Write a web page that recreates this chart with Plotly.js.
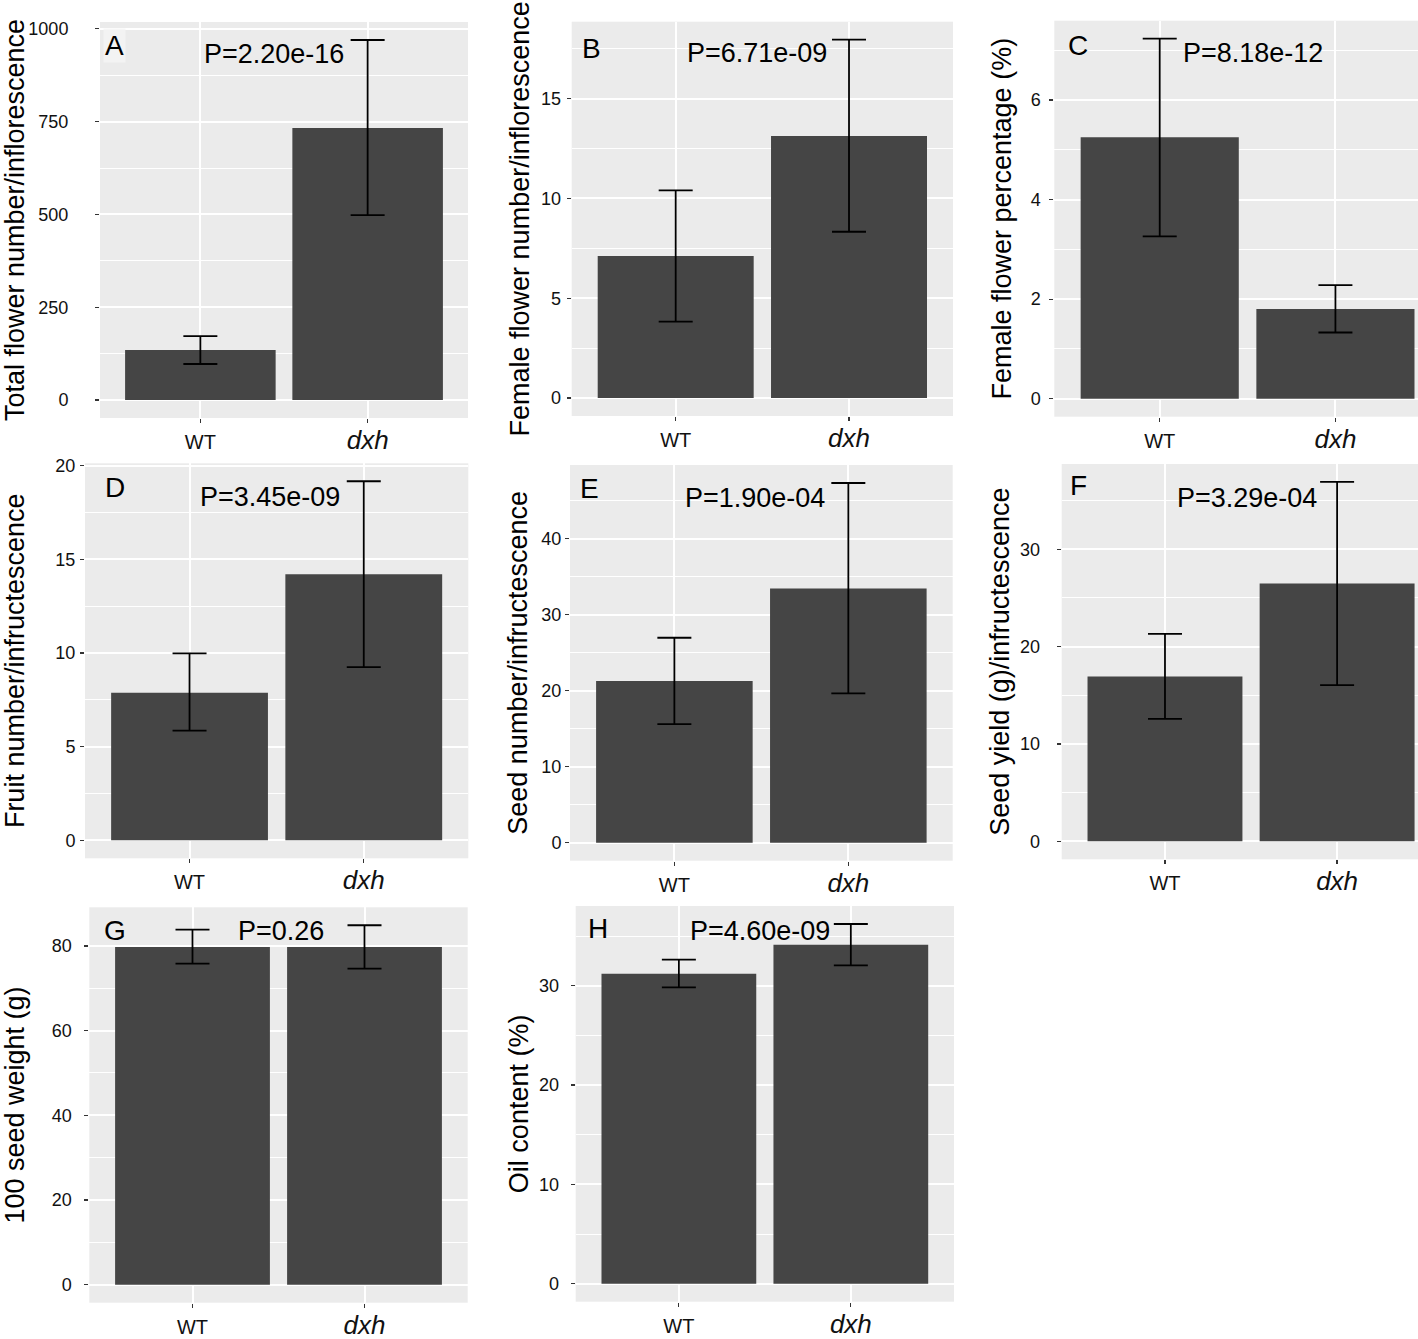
<!DOCTYPE html>
<html><head><meta charset="utf-8">
<script src="https://cdn.plot.ly/plotly-3.0.1.min.js"></script>
<style>html,body{margin:0;padding:0;background:#fff}#chart{width:1418px;height:1339px}</style>
</head><body><div id="chart"></div>
<script>
// ---------------- data ----------------
const groups = ['WT', 'dxh'];
const panelLetters = ['A', 'B', 'C', 'D', 'E', 'F', 'G', 'H'];
const yTitles = [
  'Total flower number/inflorescence',
  'Female flower number/inflorescence',
  'Female flower percentage (%)',
  'Fruit number/infructescence',
  'Seed number/infructescence',
  'Seed yield (g)/infructescence',
  '100 seed weight (g)',
  'Oil content (%)'
];
const pLabels = ['P=2.20e-16', 'P=6.71e-09', 'P=8.18e-12', 'P=3.45e-09', 'P=1.90e-04', 'P=3.29e-04', 'P=0.26', 'P=4.60e-09'];

const totalFlowerMean = [134.5, 733];   const totalFlowerLow = [97, 498];     const totalFlowerHigh = [172, 970];
const femaleFlowerMean = [7.12, 13.13]; const femaleFlowerLow = [3.83, 8.33]; const femaleFlowerHigh = [10.4, 17.95];
const femalePctMean = [5.25, 1.80];     const femalePctLow = [3.26, 1.33];     const femalePctHigh = [7.23, 2.28];
const fruitMean = [7.88, 14.2];         const fruitLow = [5.85, 9.24];         const fruitHigh = [9.98, 19.16];
const seedNumMean = [21.25, 33.44];     const seedNumLow = [15.6, 19.63];      const seedNumHigh = [26.95, 47.3];
const seedYieldMean = [16.93, 26.48];   const seedYieldLow = [12.59, 16.05];   const seedYieldHigh = [21.32, 36.92];
const seedWeightMean = [79.76, 79.76];  const seedWeightLow = [75.83, 74.65];  const seedWeightHigh = [83.86, 84.88];
const oilMean = [31.21, 34.13];         const oilLow = [29.83, 32.04];         const oilHigh = [32.62, 36.21];

const yTickSteps = [250, 5, 2, 5, 10, 10, 20, 10];

const panelData = [
  [totalFlowerMean, totalFlowerLow, totalFlowerHigh],
  [femaleFlowerMean, femaleFlowerLow, femaleFlowerHigh],
  [femalePctMean, femalePctLow, femalePctHigh],
  [fruitMean, fruitLow, fruitHigh],
  [seedNumMean, seedNumLow, seedNumHigh],
  [seedYieldMean, seedYieldLow, seedYieldHigh],
  [seedWeightMean, seedWeightLow, seedWeightHigh],
  [oilMean, oilLow, oilHigh]
];

// ---------------- layout (pixel geometry) ----------------
const W = 1418, H = 1339;
const FONT = 'Liberation Sans, Arial, Helvetica, sans-serif';
// plot boxes: [left, right, top, bottom] in px
const boxes = [
  [100, 468, 22, 418],
  [571.7, 953, 21.7, 416],
  [1054.3, 1418, 20.7, 416.7],
  [85, 468.3, 463.3, 858.3],
  [570, 952.7, 465, 860.7],
  [1061.7, 1418, 464, 859.3],
  [89.3, 467.7, 907.3, 1302.7],
  [575.7, 954, 906, 1301.7]
];
const xMax = [2.6, 2.6, 2.47, 2.6, 2.6, 2.47, 2.6, 2.6];
const tickStandoff = [23, 2, 5, 1, 0, 13, 9, 8];
const titleStandoff = [9, 3.5, 10.5, 22.5, 5.5, 2, 22.5, 2.5];
const letterPos = [[103, 33], [580, 36], [1066, 33], [103, 475], [578, 476], [1068, 473], [101.7, 918], [586, 916]];
const pPos = [[1.44, 936], [1.47, 17.33], [1.53, 6.97], [1.46, 18.36], [1.465, 45.5], [1.476, 35.4], [1.516, 83.7], [1.47, 35.6]];

const traces = [];
const layout = {
  width: W, height: H,
  margin: {l: 0, r: 0, t: 0, b: 0, pad: 0},
  paper_bgcolor: '#ffffff',
  plot_bgcolor: '#ebebeb',
  showlegend: false,
  font: {family: FONT, color: '#000'},
  annotations: []
};

panelData.forEach((d, i) => {
  const [mean, low, high] = d;
  const n = i + 1;
  const xa = n === 1 ? 'x' : 'x' + n;
  const ya = n === 1 ? 'y' : 'y' + n;
  traces.push({
    type: 'bar',
    x: [1, 2],
    y: mean,
    width: 0.9,
    xaxis: xa, yaxis: ya,
    marker: {color: '#454545', line: {width: 0}},
    error_y: {
      type: 'data', symmetric: false,
      array: high.map((h, k) => h - mean[k]),
      arrayminus: low.map((l, k) => mean[k] - l),
      color: '#000', thickness: 1.8, width: 17
    },
    hoverinfo: 'none'
  });
  const b = boxes[i];
  const top = Math.max(...high);
  const step = yTickSteps[i];
  const ticks = [];
  for (let v = 0; v <= top * 1.05 + 1e-9; v += step) ticks.push(v);
  layout['xaxis' + (n === 1 ? '' : n)] = {
    domain: [b[0] / W, b[1] / W],
    anchor: ya,
    range: [0.4, xMax[i]],
    tickmode: 'array',
    tickvals: [1, 2],
    ticktext: [groups[0], '<span style="font-size:26px"><i>' + groups[1] + '</i></span>'],
    tickfont: {size: 20, color: '#111', family: FONT},
    ticks: 'outside', ticklen: 4, tickcolor: '#333', tickwidth: 1.2,
    ticklabelstandoff: 2,
    showgrid: true, gridcolor: '#ffffff', gridwidth: 2,
    zeroline: false, showline: false, fixedrange: true
  };
  layout['yaxis' + (n === 1 ? '' : n)] = {
    domain: [1 - b[3] / H, 1 - b[2] / H],
    anchor: xa,
    range: [-0.05 * top, 1.05 * top],
    tickmode: 'array',
    tickvals: ticks,
    ticktext: ticks.map(String),
    tickfont: {size: 18, color: '#111', family: FONT},
    ticks: 'outside', ticklen: 4, tickcolor: '#333', tickwidth: 1.2,
    ticklabelstandoff: tickStandoff[i],
    showgrid: true, gridcolor: '#ffffff', gridwidth: 2,
    minor: {dtick: step / 2, tick0: step / 2, showgrid: true, gridcolor: '#ffffff', gridwidth: 1, ticks: ''},
    zeroline: false, showline: false, fixedrange: true,
    title: {text: yTitles[i], font: {size: 27, color: '#000', family: FONT}, standoff: titleStandoff[i]}
  };
  layout.annotations.push({
    xref: 'paper', yref: 'paper',
    x: letterPos[i][0] / W, y: 1 - (letterPos[i][1] - 5) / H,
    xanchor: 'left', yanchor: 'top',
    text: panelLetters[i], showarrow: false,
    bgcolor: i === 0 ? 'rgba(245,245,245,0.8)' : 'rgba(0,0,0,0)',
    font: {size: 28, color: '#000', family: FONT}
  });
  layout.annotations.push({
    xref: xa, yref: ya,
    x: pPos[i][0], y: pPos[i][1],
    xanchor: 'center', yanchor: 'middle', yshift: -1,
    text: pLabels[i], showarrow: false,
    font: {size: 27, color: '#000', family: FONT}
  });
});

Plotly.newPlot('chart', traces, layout, {displayModeBar: false, staticPlot: true});
</script>
</body></html>
